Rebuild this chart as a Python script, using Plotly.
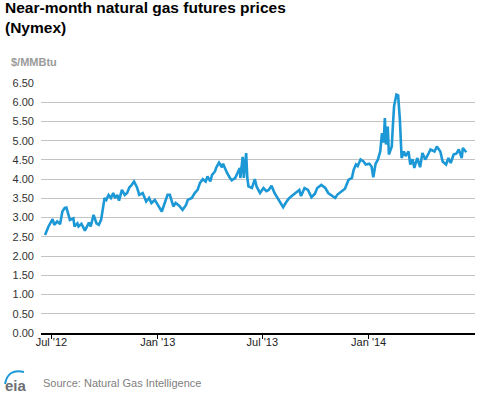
import plotly.graph_objects as go

dates = [
    "2012-06-20", "2012-06-26", "2012-07-03", "2012-07-06", "2012-07-11", "2012-07-16", "2012-07-20", "2012-07-24",
    "2012-07-27", "2012-07-30", "2012-08-02", "2012-08-08", "2012-08-10", "2012-08-15", "2012-08-17", "2012-08-22",
    "2012-08-28", "2012-09-04", "2012-09-07", "2012-09-12", "2012-09-17", "2012-09-21", "2012-09-25", "2012-10-01",
    "2012-10-04", "2012-10-08", "2012-10-12", "2012-10-16", "2012-10-19", "2012-10-23", "2012-10-26", "2012-10-31",
    "2012-11-05", "2012-11-09", "2012-11-13", "2012-11-16", "2012-11-21", "2012-11-26", "2012-11-30", "2012-12-06",
    "2012-12-12", "2012-12-17", "2012-12-21", "2012-12-27", "2013-01-02", "2013-01-08", "2013-01-14", "2013-01-18",
    "2013-01-22", "2013-01-28", "2013-02-01", "2013-02-07", "2013-02-13", "2013-02-19", "2013-02-22", "2013-03-01",
    "2013-03-06", "2013-03-11", "2013-03-15", "2013-03-20", "2013-03-25", "2013-03-28", "2013-04-02", "2013-04-05",
    "2013-04-10", "2013-04-12", "2013-04-17", "2013-04-22", "2013-04-24", "2013-04-29", "2013-05-01", "2013-05-06",
    "2013-05-09", "2013-05-15", "2013-05-21", "2013-05-23", "2013-05-24", "2013-05-28", "2013-05-30", "2013-06-03",
    "2013-06-05", "2013-06-07", "2013-06-13", "2013-06-18", "2013-06-21", "2013-06-27", "2013-07-03", "2013-07-08",
    "2013-07-12", "2013-07-17", "2013-07-22", "2013-07-26", "2013-08-01", "2013-08-06", "2013-08-12", "2013-08-16",
    "2013-08-23", "2013-08-29", "2013-09-03", "2013-09-06", "2013-09-12", "2013-09-18", "2013-09-24", "2013-09-30",
    "2013-10-04", "2013-10-11", "2013-10-18", "2013-10-23", "2013-10-29", "2013-11-04", "2013-11-08", "2013-11-15",
    "2013-11-21", "2013-11-27", "2013-12-03", "2013-12-06", "2013-12-10", "2013-12-13", "2013-12-18", "2013-12-23",
    "2013-12-27", "2014-01-02", "2014-01-06", "2014-01-09", "2014-01-13", "2014-01-17", "2014-01-21", "2014-01-23",
    "2014-01-24", "2014-01-27", "2014-01-29", "2014-01-31", "2014-02-03", "2014-02-05", "2014-02-10", "2014-02-12",
    "2014-02-14", "2014-02-18", "2014-02-21", "2014-02-24", "2014-02-27", "2014-03-03", "2014-03-06", "2014-03-11",
    "2014-03-14", "2014-03-18", "2014-03-21", "2014-03-26", "2014-03-31", "2014-04-04", "2014-04-09", "2014-04-15",
    "2014-04-18", "2014-04-25", "2014-04-29", "2014-05-05", "2014-05-09", "2014-05-15", "2014-05-19", "2014-05-23",
    "2014-05-28", "2014-06-02", "2014-06-06", "2014-06-11", "2014-06-13", "2014-06-19",
]

prices = [
    2.55, 2.77, 2.96, 2.81, 2.90, 2.83, 3.16, 3.25,
    3.26, 3.10, 2.94, 2.98, 2.77, 2.85, 2.77, 2.84,
    2.66, 2.87, 2.77, 3.07, 2.85, 2.81, 2.94, 3.51,
    3.46, 3.59, 3.51, 3.64, 3.51, 3.59, 3.44, 3.72,
    3.59, 3.64, 3.79, 3.83, 3.94, 3.79, 3.59, 3.64,
    3.42, 3.51, 3.38, 3.46, 3.29, 3.16, 3.42, 3.59,
    3.59, 3.29, 3.38, 3.31, 3.20, 3.33, 3.46, 3.51,
    3.64, 3.72, 3.90, 4.00, 3.94, 4.07, 3.94, 4.11,
    4.20, 4.29, 4.43, 4.31, 4.40, 4.20, 4.16, 4.03,
    3.97, 4.03, 4.20, 4.29, 4.03, 4.58, 4.03, 4.68,
    4.03, 3.81, 3.77, 4.00, 3.81, 3.64, 3.77, 3.69,
    3.72, 3.83, 3.64, 3.55, 3.39, 3.27, 3.42, 3.50,
    3.59, 3.65, 3.72, 3.56, 3.77, 3.72, 3.53, 3.62,
    3.77, 3.85, 3.77, 3.64, 3.58, 3.51, 3.60, 3.69,
    3.75, 3.98, 4.03, 4.24, 4.38, 4.34, 4.51, 4.46,
    4.38, 4.40, 4.33, 4.05, 4.40, 4.51, 4.72, 5.03,
    5.20, 4.95, 5.59, 4.90, 5.37, 4.64, 4.85, 5.42,
    5.90, 6.20, 6.18, 5.55, 4.55, 4.72, 4.60, 4.72,
    4.38, 4.52, 4.29, 4.55, 4.31, 4.68, 4.51, 4.68,
    4.77, 4.72, 4.85, 4.72, 4.46, 4.38, 4.55, 4.42,
    4.64, 4.67, 4.77, 4.55, 4.81, 4.70,
]

tick_dates = ["2012-07-01", "2013-01-01", "2013-07-01", "2014-01-01"]
tick_labels = ["Jul '12", "Jan '13", "Jul '13", "Jan '14"]
y_ticks = [0.0, 0.5, 1.0, 1.5, 2.0, 2.5, 3.0, 3.5, 4.0, 4.5, 5.0, 5.5, 6.0, 6.5]

FONT = "Liberation Sans, Arial, sans-serif"

# pixel helpers for placing decorations (plot area: x 41..475, y 83..333)
def px(x):
    return (x - 41) / 434

def py(y):
    return (333 - y) / 250

fig = go.Figure()
fig.add_trace(go.Scatter(
    x=dates, y=prices, mode="lines",
    line=dict(color="#1b98d5", width=2.6),
    hoverinfo="x+y", showlegend=False,
))

fig.update_layout(
    width=477, height=393,
    margin=dict(l=41, r=2, t=83, b=60),
    paper_bgcolor="white", plot_bgcolor="white",
    font=dict(family=FONT, size=11, color="#333333"),
    xaxis=dict(
        type="date",
        range=["2012-06-13", "2014-07-04"],
        tickvals=tick_dates, ticktext=tick_labels,
        ticks="outside", ticklen=4, tickcolor="#000000", tickwidth=1,
        showline=True, linecolor="#000000", linewidth=1.5,
        showgrid=False, zeroline=False,
        ticklabelstandoff=-6,
        tickfont=dict(family=FONT, size=11, color="#222222"),
    ),
    yaxis=dict(
        range=[0, 6.5],
        tickvals=y_ticks, tickformat=".2f",
        showgrid=True, gridcolor="#c3c3c3", gridwidth=1,
        zeroline=False, showline=False, ticks="",
        ticklabelstandoff=6,
        tickfont=dict(family=FONT, size=11, color="#333333"),
    ),
    annotations=[
        dict(text="<b>Near-month natural gas futures prices<br>(Nymex)</b>",
             xref="paper", yref="paper", x=px(3), y=py(-3),
             xanchor="left", yanchor="top", align="left",
             showarrow=False, font=dict(family=FONT, size=15.5, color="#000000")),
        dict(text="<b>$/MMBtu</b>", xref="paper", yref="paper",
             x=px(9), y=py(62), xanchor="left", yanchor="middle",
             showarrow=False, font=dict(family=FONT, size=11, color="#9a9a9a")),
        dict(text="Source: Natural Gas Intelligence", xref="paper", yref="paper",
             x=px(41), y=py(383), xanchor="left", yanchor="middle",
             showarrow=False, font=dict(family=FONT, size=11, color="#808080")),
        dict(text="<b>eia</b>", xref="paper", yref="paper",
             x=px(3), y=py(385), xanchor="left", yanchor="middle",
             showarrow=False, font=dict(family=FONT, size=15, color="#6d6e71")),
    ],
    shapes=[
        dict(type="path", xref="paper", yref="paper",
             path="M {:.4f},{:.4f} Q {:.4f},{:.4f} {:.4f},{:.4f}".format(
                 px(5), py(384), px(8), py(368), px(24), py(372)),
             line=dict(color="#1b98d5", width=2)),
    ],
)

fig.write_html("out.html", config={"displayModeBar": False},
               post_script="document.body.style.margin='0';document.body.style.padding='0';")
